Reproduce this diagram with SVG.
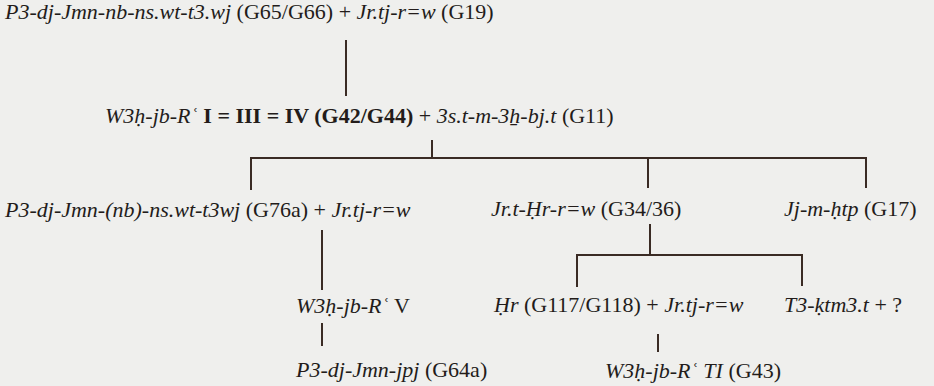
<svg xmlns="http://www.w3.org/2000/svg" width="934" height="386" viewBox="0 0 934 386">
<style>
text{font-family:"Liberation Serif","Times New Roman",serif;font-size:22px;fill:#231c1a}
.i{font-style:italic}
.b{font-weight:bold}
.c path{stroke:#3a2b24;stroke-width:2;fill:none}
</style>
<rect width="934" height="386" fill="#efefed"/>
<g id="n1"><text x="5" y="19"><tspan class="i">P3-dj-Jmn-nb-ns.wt-t3.wj</tspan> (G65/G66) + <tspan class="i">Jr.tj-r=w</tspan> (G19)</text></g>
<g id="n2"><text x="105" y="123"><tspan class="i">W3ḥ-jb-Rʿ</tspan><tspan class="b"> I = III = IV (G42/G44)</tspan> + <tspan class="i">3s.t-m-3ẖ-bj.t</tspan> (G11)</text></g>
<g id="n3"><text x="5" y="217"><tspan class="i">P3-dj-Jmn-(nb)-ns.wt-t3wj</tspan> (G76a) + <tspan class="i">Jr.tj-r=w</tspan></text></g>
<g id="n4"><text x="491" y="216"><tspan class="i">Jr.t-Ḥr-r=w</tspan> (G34/36)</text></g>
<g id="n5"><text x="784" y="216"><tspan class="i">Jj-m-ḥtp</tspan> (G17)</text></g>
<g id="n6"><text x="296" y="313"><tspan class="i">W3ḥ-jb-Rʿ</tspan> V</text></g>
<g id="n7"><text x="296" y="377"><tspan class="i">P3-dj-Jmn-jpj</tspan> (G64a)</text></g>
<g id="n8"><text x="494" y="312"><tspan class="i">Ḥr</tspan> (G117/G118) + <tspan class="i">Jr.tj-r=w</tspan></text></g>
<g id="n9"><text x="784" y="312"><tspan class="i">T3-ḳtm3.t</tspan> + ?</text></g>
<g id="n10"><text x="605" y="378"><tspan class="i">W3ḥ-jb-Rʿ TI</tspan> (G43)</text></g>
<g id="connectors" class="c">
<path d="M346,40V96"/>
<path d="M432,140V158"/>
<path d="M251,190V158H866V188"/>
<path d="M648,158V188"/>
<path d="M322,230V290"/>
<path d="M650,224V255"/>
<path d="M577,287V255H802V286"/>
<path d="M322,323V346"/>
<path d="M658,334V352"/>
</g>
</svg>
